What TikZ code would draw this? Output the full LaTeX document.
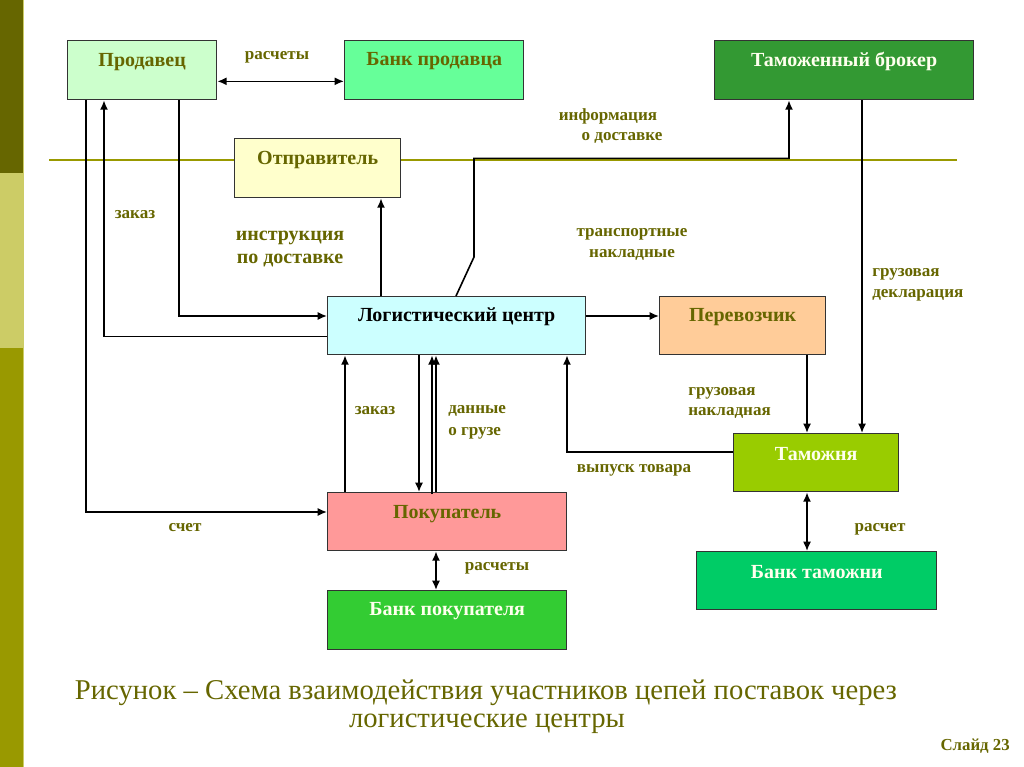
\documentclass[tikz,border=0pt]{standalone}
\usepackage{fontspec}
\setmainfont{Liberation Serif}
\usetikzlibrary{calc,arrows.meta}
\definecolor{olivedark}{HTML}{666600}
\definecolor{olivelight}{HTML}{CCCC66}
\definecolor{olivemid}{HTML}{999900}
\definecolor{seplinec}{HTML}{999900}
\definecolor{txtolive}{HTML}{666600}
\definecolor{txtlight}{HTML}{FFFFEE}
\definecolor{cProd}{HTML}{CCFFCC}
\definecolor{cBankP}{HTML}{66FF99}
\definecolor{cBroker}{HTML}{339933}
\definecolor{cOtpr}{HTML}{FFFFCC}
\definecolor{cLC}{HTML}{CCFFFF}
\definecolor{cPerev}{HTML}{FFCC99}
\definecolor{cTam}{HTML}{99CC00}
\definecolor{cPok}{HTML}{FF9999}
\definecolor{cBPok}{HTML}{33CC33}
\definecolor{cBTam}{HTML}{00CC66}
\definecolor{boxline}{HTML}{333333}
\def\u{0.75pt}
\tikzset{
  box/.style={draw=boxline, line width=1pt, anchor=north west, inner sep=0pt},
  boxtext/.style={font=\bfseries\fontsize{15pt}{17pt}\selectfont, text=txtolive, inner sep=0pt},
  lbl/.style={font=\bfseries\fontsize{12.8pt}{14pt}\selectfont, text=txtolive, inner sep=0pt},
  biglbl/.style={lbl, font=\bfseries\fontsize{15pt}{17pt}\selectfont},
  arr/.style={line width=1.2pt, -{Latex[length=7pt,width=6pt]}},
  dbl/.style={line width=1.2pt, {Latex[length=7pt,width=6pt]}-{Latex[length=7pt,width=6pt]}}
}
\begin{document}
\begin{tikzpicture}[x=\u, y=-\u]
\useasboundingbox (0,0) rectangle (1024,767);
% left bar
\fill[olivedark] (0,0) rectangle (23,173);
\fill[olivelight] (0,173) rectangle (23,348);
\fill[olivemid] (0,348) rectangle (23,767);
\draw[olivelight, line width=0.8pt] (23.5,0) -- (23.5,767);
% separator line
\draw[seplinec, line width=1.6pt] (49,160) -- (957,160);

% boxes
\node[box, fill=cProd,  minimum width=149*\u, minimum height=59*\u] (prod)   at (67,40) {};
\node[box, fill=cBankP, minimum width=179*\u, minimum height=59*\u] (bankp)  at (344,40) {};
\node[box, fill=cBroker,minimum width=259*\u, minimum height=59*\u] (broker) at (714,40) {};
\node[box, fill=cOtpr,  minimum width=166*\u, minimum height=59*\u] (otpr)   at (234,138) {};
\node[box, fill=cLC,    minimum width=258*\u, minimum height=58*\u] (lc)     at (327,296) {};
\node[box, fill=cPerev, minimum width=166*\u, minimum height=58*\u] (perev)  at (659,296) {};
\node[box, fill=cTam,   minimum width=165*\u, minimum height=58*\u] (tam)    at (733,433) {};
\node[box, fill=cPok,   minimum width=239*\u, minimum height=58*\u] (pok)    at (327,492) {};
\node[box, fill=cBPok,  minimum width=239*\u, minimum height=59*\u] (bpok)   at (327,590) {};
\node[box, fill=cBTam,  minimum width=240*\u, minimum height=58*\u] (btam)   at (696,551) {};

% box texts
\node[boxtext] (tprod)   at ($(prod.north)+(0,22)$)   {Продавец};
\node[boxtext] (tbankp)  at ($(bankp.north)+(0,21)$)  {Банк продавца};
\node[boxtext, text=txtlight] (tbroker) at ($(broker.north)+(0,21)$) {Таможенный брокер};
\node[boxtext] (totpr)   at ($(otpr.north)+(0,22)$)   {Отправитель};
\node[boxtext, text=black] (tlc) at ($(lc.north)+(0,21)$) {Логистический центр};
\node[boxtext] (tperev)  at ($(perev.north)+(0,21)$)  {Перевозчик};
\node[boxtext, text=txtlight] (ttam) at ($(tam.north)+(0,21)$) {Таможня};
\node[boxtext] (tpok)    at ($(pok.north)+(0,22)$)    {Покупатель};
\node[boxtext, text=txtlight] (tbpok) at ($(bpok.north)+(0,21)$) {Банк покупателя};
\node[boxtext, text=txtlight] (tbtam) at ($(btam.north)+(0,21)$) {Банк таможни};

% connectors
\draw[dbl] ($(prod.south east)+(0,-19)$) -- ($(bankp.south west)+(0,-19)$);
\draw[arr] ($(prod.south west)+(19,0)$) |- ($(pok.north west)+(0,20)$);
\draw[arr] ($(lc.south west)+(0,-19)$) -| ($(prod.south west)+(37,0)$);
\draw[arr] ($(prod.south west)+(112,0)$) |- ($(lc.north west)+(0,20)$);
\draw[arr] ($(lc.north west)+(54,0)$) -- ($(otpr.south west)+(147,0)$);
\coordinate (bend1) at ($(lc.north west)+(147,-39)$);
\coordinate (bend2) at ($(broker.south west)+(75,58)$);
\draw[arr] ($(lc.north west)+(129,0)$) -- (bend1) |- (bend2) -- ($(broker.south west)+(75,0)$);
\draw[arr] ($(broker.south west)+(148,0)$) -- ($(tam.north west)+(129,0)$);
\draw[arr] ($(lc.north east)+(0,20)$) -- ($(perev.north west)+(0,20)$);
\draw[arr] ($(perev.south west)+(148,0)$) -- ($(tam.north west)+(74,0)$);
\draw[arr] ($(tam.north west)+(0,19)$) -| ($(lc.south west)+(240,0)$);
\draw[dbl] ($(tam.south west)+(74,0)$) -- ($(btam.north west)+(111,0)$);
\draw[arr] ($(pok.north west)+(18,0)$) -- ($(lc.south west)+(18,0)$);
\draw[arr] ($(lc.south west)+(92,0)$) -- ($(pok.north west)+(92,0)$);
\draw[arr] ($(pok.north west)+(105,2)$) -- ($(lc.south west)+(105,0)$);
\draw[arr] ($(pok.north west)+(109,0)$) -- ($(lc.south west)+(109,0)$);
\draw[dbl] ($(pok.south west)+(109,0)$) -- ($(bpok.north west)+(109,0)$);

% edge labels
\node[lbl] (l1) at (277,57) {расчеты};
\node[lbl] (l2) at (135,215) {заказ};
\node[biglbl] (l3a) at (290,238) {инструкция};
\node[biglbl] (l3b) at (290,261) {по доставке};
\node[lbl] (l4a) at (608,116) {информация};
\node[lbl] (l4b) at (622,138) {о доставке};
\node[lbl] (l5a) at (632,234) {транспортные};
\node[lbl] (l5b) at (632,255) {накладные};
\node[lbl, anchor=west] (l6a) at (872,274) {грузовая};
\node[lbl, anchor=west] (l6b) at (872,295) {декларация};
\node[lbl] (l7) at (375,411) {заказ};
\node[lbl, anchor=west] (l8a) at (448,411) {данные};
\node[lbl, anchor=west] (l8b) at (448,433) {о грузе};
\node[lbl, anchor=west] (l9a) at (688,393) {грузовая};
\node[lbl, anchor=west] (l9b) at (688,413) {накладная};
\node[lbl] (l10) at (634,470) {выпуск товара};
\node[lbl] (l11) at (185,528) {счет};
\node[lbl] (l12) at (497,568) {расчеты};
\node[lbl] (l13) at (880,529) {расчет};

% caption
\node[text=txtolive, font=\fontsize{21.5pt}{24pt}\selectfont, inner sep=0pt] (cap1) at (486,693) {Рисунок – Схема взаимодействия участников цепей поставок через};
\node[text=txtolive, font=\fontsize{21.5pt}{24pt}\selectfont, inner sep=0pt] (cap2) at (487,724) {логистические центры};
\node[text=txtolive, font=\bfseries\fontsize{12.6pt}{14pt}\selectfont, inner sep=0pt, anchor=east] (slide) at (1010,746) {Слайд 23};
\end{tikzpicture}
\end{document}
